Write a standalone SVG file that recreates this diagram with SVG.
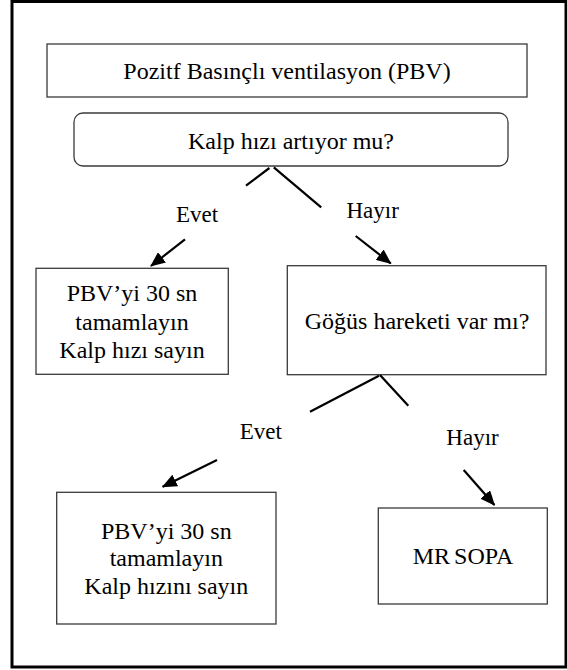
<svg xmlns="http://www.w3.org/2000/svg" width="567" height="670" viewBox="0 0 567 670">
<style>
.frame{fill:none;stroke:#000;stroke-width:3}
.box{fill:#fff;stroke:#3a3a3a;stroke-width:1.3}
.t{font-family:"Liberation Serif","Times New Roman",serif;font-size:24px;fill:#000;text-anchor:middle}
.lbl{font-family:"Liberation Serif","Times New Roman",serif;font-size:23px;fill:#000;text-anchor:middle}
.ln{stroke:#000;stroke-width:2.2;fill:none}
.arr{stroke:#000;stroke-width:2.2;fill:none;marker-end:url(#ah)}
</style>
<defs>
<marker id="ah" viewBox="0 0 15 13" refX="14" refY="6.5" markerWidth="15" markerHeight="13" markerUnits="userSpaceOnUse" orient="auto">
<path d="M0,0 L15,6.5 L0,13 z" fill="#000"/>
</marker>
</defs>
<rect class="frame" x="12" y="1.5" width="554" height="665.5"/>
<g id="n-pbv">
<rect class="box" x="47" y="44" width="480" height="53"/>
<text class="t" x="287" y="79">Pozitf Basınçlı ventilasyon (PBV)</text>
</g>
<g id="n-kalp">
<rect class="box" x="74" y="113" width="434" height="53" rx="9" ry="9"/>
<text class="t" x="291" y="148.5">Kalp hızı artıyor mu?</text>
</g>
<g id="n-pbv30a">
<rect class="box" x="36" y="268.3" width="192.3" height="106"/>
<text class="t" x="132" y="301">PBV’yi 30 sn</text>
<text class="t" x="132" y="329.5">tamamlayın</text>
<text class="t" x="132" y="358">Kalp hızı sayın</text>
</g>
<g id="n-gogus">
<rect class="box" x="287.3" y="265.7" width="258.7" height="109"/>
<text class="t" x="417" y="328.5">Göğüs hareketi var mı?</text>
</g>
<g id="n-pbv30b">
<rect class="box" x="56.7" y="492.3" width="219.3" height="131.7"/>
<text class="t" x="166.3" y="538.5">PBV’yi 30 sn</text>
<text class="t" x="166.3" y="566">tamamlayın</text>
<text class="t" x="166.3" y="593.5">Kalp hızını sayın</text>
</g>
<g id="n-mrsopa">
<rect class="box" x="378.3" y="508" width="169" height="96"/>
<text class="t" x="463" y="564" style="word-spacing:-2px">MR SOPA</text>
</g>
<g id="connectors">
<line class="ln" x1="269.4" y1="168" x2="246" y2="185.7"/>
<line class="ln" x1="273.8" y1="167.3" x2="321.2" y2="207.3"/>
<line class="arr" x1="185" y1="239.3" x2="151" y2="266"/>
<line class="arr" x1="355.7" y1="236" x2="390.7" y2="263.3"/>
<line class="ln" x1="379" y1="375.7" x2="310" y2="411.7"/>
<line class="ln" x1="380" y1="375" x2="408.3" y2="405.7"/>
<line class="arr" x1="217" y1="460" x2="162.7" y2="486.7"/>
<line class="arr" x1="463.7" y1="470" x2="494.4" y2="505"/>
<text class="lbl" x="197" y="221.7">Evet</text>
<text class="lbl" x="372.7" y="218.3">Hayır</text>
<text class="lbl" x="260.8" y="439.3">Evet</text>
<text class="lbl" x="472.5" y="445">Hayır</text>
</g>
</svg>
